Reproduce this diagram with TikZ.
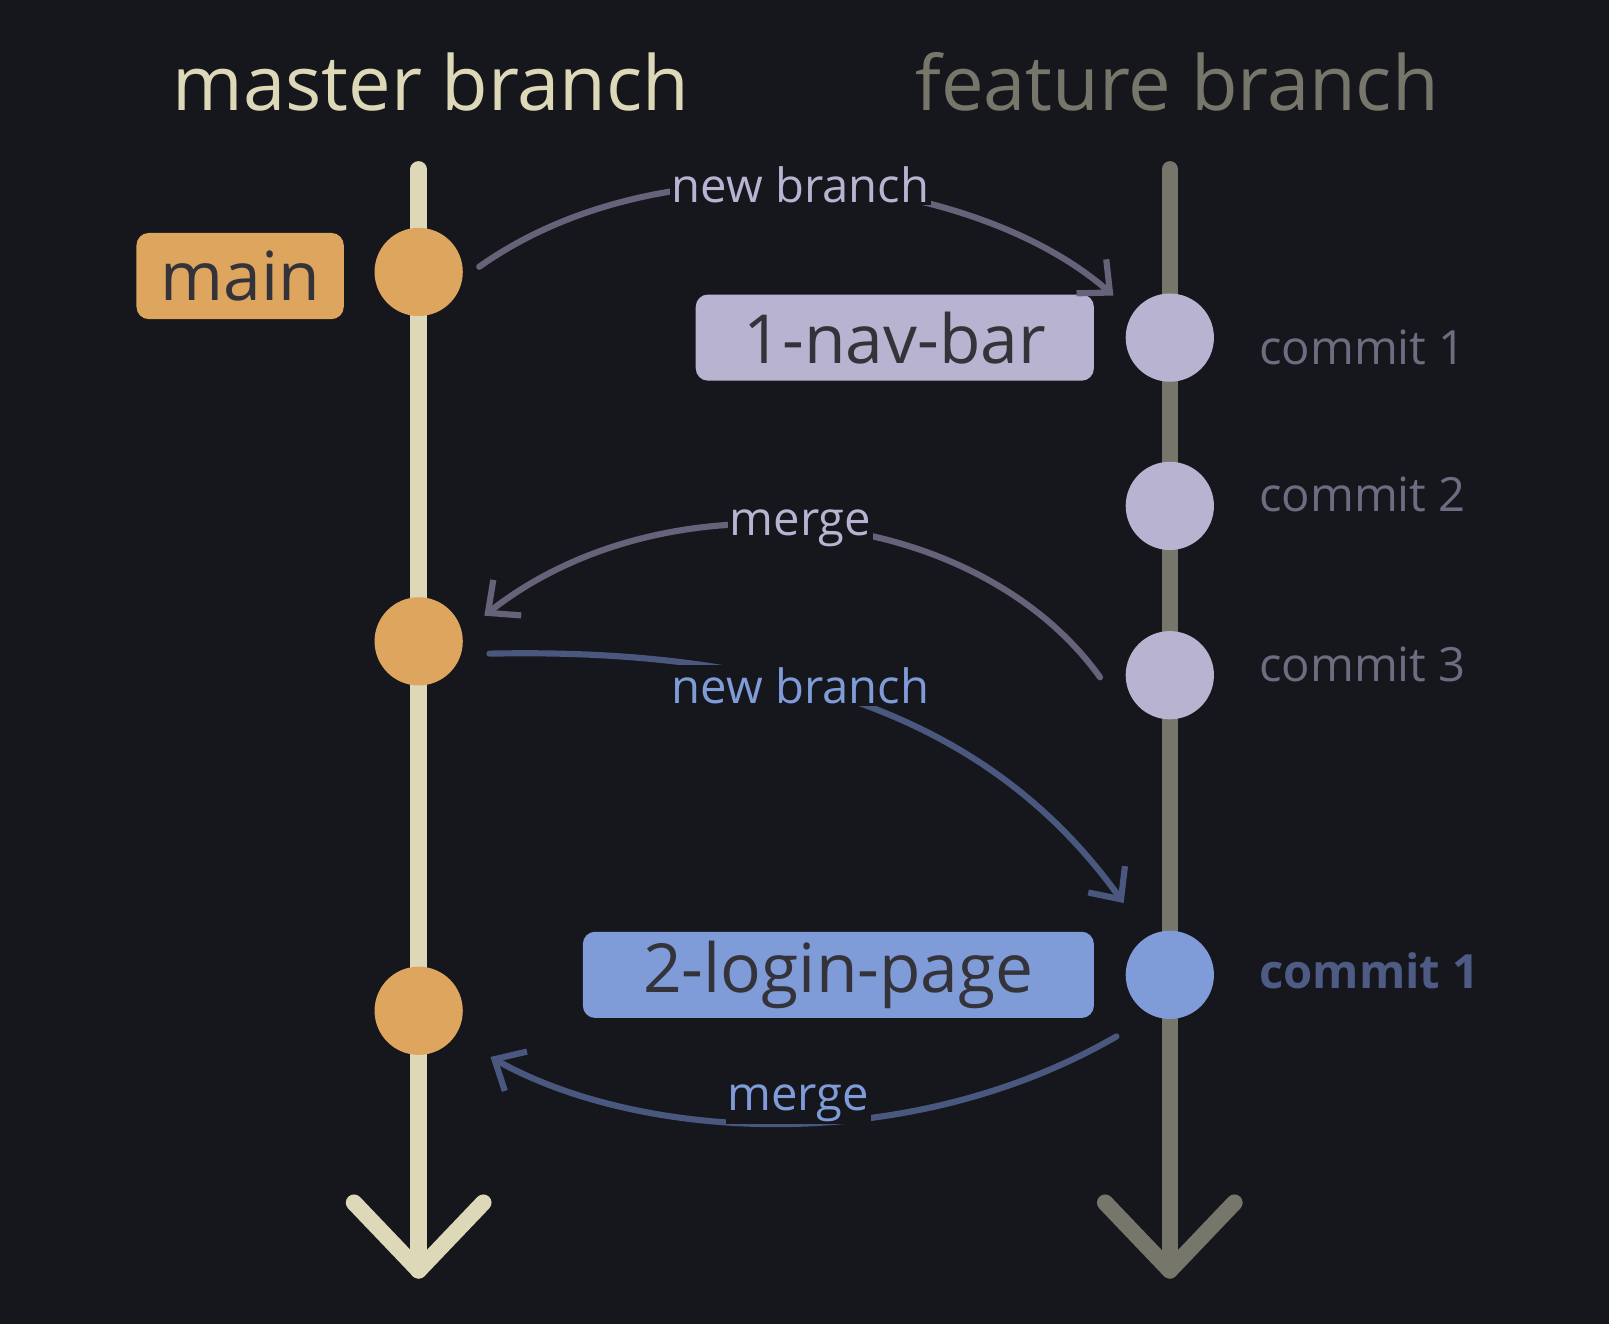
\documentclass[tikz,border=0pt]{standalone}
\usepackage{fontspec}
\setmainfont{Open Sans}
\usetikzlibrary{arrows.meta}
\definecolor{bg}{HTML}{16171D}
\definecolor{mline}{HTML}{DDD8B8}
\definecolor{fline}{HTML}{77766A}
\definecolor{orng}{HTML}{DDA55E}
\definecolor{lav}{HTML}{B8B3D0}
\definecolor{blu}{HTML}{7F9CD8}
\definecolor{arrA}{HTML}{66627A}
\definecolor{arrB}{HTML}{4A5880}
\definecolor{ctxt}{HTML}{6E6C80}
\definecolor{ctxtb}{HTML}{4D5B85}
\definecolor{dark}{HTML}{35333A}
\tikzset{
 dot/.style={circle,minimum size=43pt,inner sep=0,fill=#1},
 tag/.style={rounded corners=6pt,fill=#1,text=dark,font=\fontsize{33}{36}\selectfont,inner sep=0,minimum height=42pt},
 clab/.style={anchor=west,text=ctxt,font=\fontsize{23}{26}\selectfont},
 alab/.style={fill=bg,inner sep=1pt,font=\fontsize{23}{26}\selectfont},
 conn/.style={line width=3pt,draw=#1,-{Straight Barb[length=12pt,width=22pt,line width=3pt]}},
 title/.style={font=\fontsize{37}{40}\selectfont}
}
\begin{document}
\begin{tikzpicture}[x=0.5pt,y=-0.5pt]
\fill[bg] (0,0) rectangle (1568,1290);
\useasboundingbox (0,0) rectangle (1568,1290);
\node[title,text=mline] (tm) at (420,80) {master branch};
\node[title,text=fline] (tf) at (1147,80) {feature branch};
% lines
\draw[mline,line width=8pt,line cap=round] (408,165) -- (408,1238);
\draw[mline,line width=8pt,line cap=round,line join=round] (345,1172) -- (408,1238) -- (471,1172);
\draw[fline,line width=8pt,line cap=round] (1140,165) -- (1140,1238);
\draw[fline,line width=8pt,line cap=round,line join=round] (1077,1172) -- (1140,1238) -- (1203,1172);
% dots
\node[dot=orng] (m1) at (408,265) {};
\node[dot=orng] (m2) at (408,625) {};
\node[dot=orng] (m3) at (408,985) {};
\node[dot=lav] (f1) at (1140,329) {};
\node[dot=lav] (f2) at (1140,493) {};
\node[dot=lav] (f3) at (1140,658) {};
\node[dot=blu] (g1) at (1140,950) {};
% tags
\node[tag=orng,minimum width=101pt] (tmain) at (234,269) {main};
\node[tag=lav,minimum width=194pt] (tnav) at (872,329) {1-nav-bar};
\node[tag=blu,minimum width=249pt] (tlog) at (817,950) {2-login-page};
% commits
\node[clab] (c1) at (1220,339) {commit 1};
\node[clab] (c2) at (1220,482) {commit 2};
\node[clab] (c3) at (1220,647) {commit 3};
\node[clab,text=ctxtb,font=\fontsize{23}{26}\selectfont\bfseries] (c4) at (1220,946) {commit 1};
% connectors
\coordinate (a1s) at (467,260); \coordinate (a1e) at (1085,288);
\coordinate (a2s) at (1072,660); \coordinate (a2e) at (472,600);
\coordinate (a3s) at (477,637); \coordinate (a3e) at (1095,880);
\coordinate (a4s) at (1088,1010); \coordinate (a4e) at (478,1030);
\draw[conn=arrA,line cap=round] (a1s) .. controls (650,130) and (950,170) .. (a1e);
\draw[conn=arrA,line cap=round] (a2s) .. controls (950,490) and (650,460) .. (a2e);
\draw[conn=arrB,line cap=round] (a3s) .. controls (800,630) and (980,720) .. (a3e);
\draw[conn=arrB,line cap=round] (a4s) .. controls (880,1130) and (620,1110) .. (a4e);
\node[alab,text=lav] (l1) at (780,180) {new branch};
\node[alab,text=lav] (l2) at (780,515) {merge};
\node[alab,text=blu] (l3) at (780,668) {new branch};
\node[alab,text=blu] (l4) at (778,1075) {merge};
\end{tikzpicture}
\end{document}
